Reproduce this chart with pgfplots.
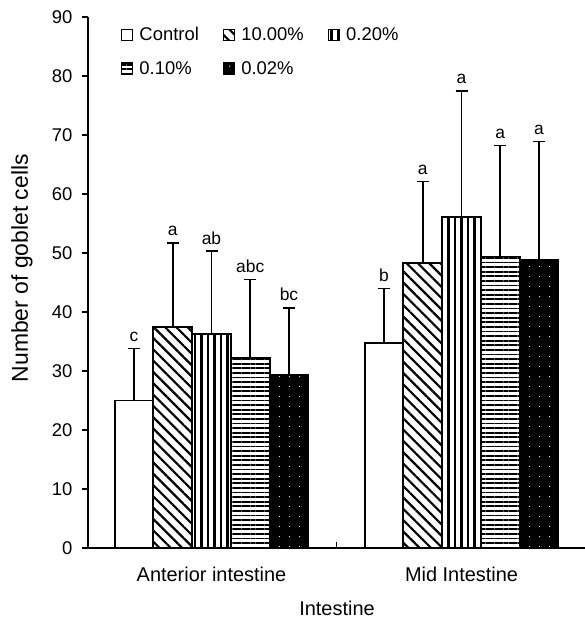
\documentclass[border=0pt]{standalone}
\usepackage{fontspec}
\setmainfont{Liberation Sans}
\usepackage{pgfplots}
\usepackage{pgfplotstable}
\pgfplotsset{compat=1.18}
\usetikzlibrary{patterns.meta}

% x = group (0 anterior, 1 mid) + bar offset; e = upper error
\pgfplotstableread{
x y e
-0.31 25.0 8.8
0.69 34.7 9.3
}\ctrl
\pgfplotstableread{
x y e
-0.155 37.5 14.2
0.845 48.3 13.8
}\tenpc
\pgfplotstableread{
x y e
0 36.3 14.0
1 56.1 21.4
}\twopc
\pgfplotstableread{
x y e
0.155 32.2 13.3
1.155 49.4 18.8
}\onepc
\pgfplotstableread{
x y e
0.31 29.4 11.3
1.31 48.9 20.0
}\ztwopc
\pgfplotstableread{
x y lab
-0.31 33.8 c
-0.155 51.7 a
0 50.3 ab
0.155 45.5 abc
0.31 40.7 bc
0.69 44.0 b
0.845 62.1 a
1 77.5 a
1.155 68.2 a
1.31 68.9 a
}\labs

\begin{document}
\begin{tikzpicture}
\begin{axis}[
  scale only axis,
  width=498bp, height=531bp,
  xmin=-0.494, xmax=1.498,
  ymin=0, ymax=90,
  axis lines=left,
  axis line style={-, line width=1.5bp},
  ytick={0,10,...,90},
  tick align=outside,
  major tick length=6bp,
  tick style={black, line width=1.3bp},
  xtick={0,1},
  xticklabels={Anterior intestine,Mid Intestine},
  x tick style={draw=none},
  extra x ticks={0.5},
  extra x tick labels={},
  extra x tick style={tick align=inside, x tick style={draw=black, line width=1.3bp}},
  /pgf/number format/assume math mode=true,
  xticklabel style={font=\fontsize{20}{22}\selectfont, yshift=-10bp},
  yticklabel style={font=\fontsize{18.5}{20}\selectfont, xshift=-6bp},
  every axis y label/.style={at={(axis description cs:-0.1325,0.527)}, anchor=center, rotate=90,
    font=\fontsize{23}{26}\selectfont},
  every axis x label/.style={at={(axis description cs:0.5,0)}, anchor=center, yshift=-60bp,
    font=\fontsize{20}{22}\selectfont},
  ylabel={Number of goblet cells},
  xlabel={Intestine},
  legend columns=3,
  legend cell align=left,
  legend style={at={(0.06,0.988)}, anchor=north west, draw=none, fill=none,
    font=\fontsize{18.5}{20}\selectfont, row sep=15bp,
    /tikz/every odd column/.append style={column sep=4bp},
    /tikz/every even column/.append style={column sep=22bp}},
  legend image code/.code={\draw[#1, line width=1.4bp] (0bp,-5.5bp) rectangle (11bp,5.5bp);},
  every axis plot/.append style={
    ybar, bar width=0.155, bar shift=0pt, draw=black, line width=1.8bp,
    error bars/y dir=plus, error bars/y explicit,
    error bars/error bar style={black, line width=1.6bp},
    error bars/error mark options={rotate=90, mark size=6bp, line width=1.6bp, black}},
]
\addplot[fill=white] table[x=x, y=y, y error=e] {\ctrl};
\addlegendentry{Control}
\addplot[pattern={Lines[angle=-45, distance=8bp, line width=2.2bp]}] table[x=x, y=y, y error=e] {\tenpc};
\addlegendentry{10.00\%}
\addplot[pattern={Lines[angle=90, distance=6.5bp, line width=2.2bp]}] table[x=x, y=y, y error=e] {\twopc};
\addlegendentry{0.20\%}
\addplot[pattern={Lines[angle=0, distance=4.6bp, line width=1.8bp]}] table[x=x, y=y, y error=e] {\onepc};
\addlegendentry{0.10\%}
\addplot[fill=black, postaction={pattern={Dots[distance=10bp, radius=0.6bp]}, pattern color=white}] table[x=x, y=y, y error=e] {\ztwopc};
\addlegendentry{0.02\%}
\addplot[only marks, mark=*, mark size=0pt, mark options={draw=none, fill=none}, draw=none,
  forget plot, error bars/y dir=none,
  nodes near coords, point meta=explicit symbolic,
  nodes near coords style={anchor=south, font=\fontsize{17.5}{19}\selectfont, inner sep=1bp, yshift=5bp}]
  table[x=x, y=y, meta=lab] {\labs};
\end{axis}
\pgfresetboundingbox
\path ([xshift=-88bp, yshift=-78bp]current axis.south west) rectangle ([xshift=-1bp, yshift=17bp]current axis.north east);
\end{tikzpicture}
\end{document}
